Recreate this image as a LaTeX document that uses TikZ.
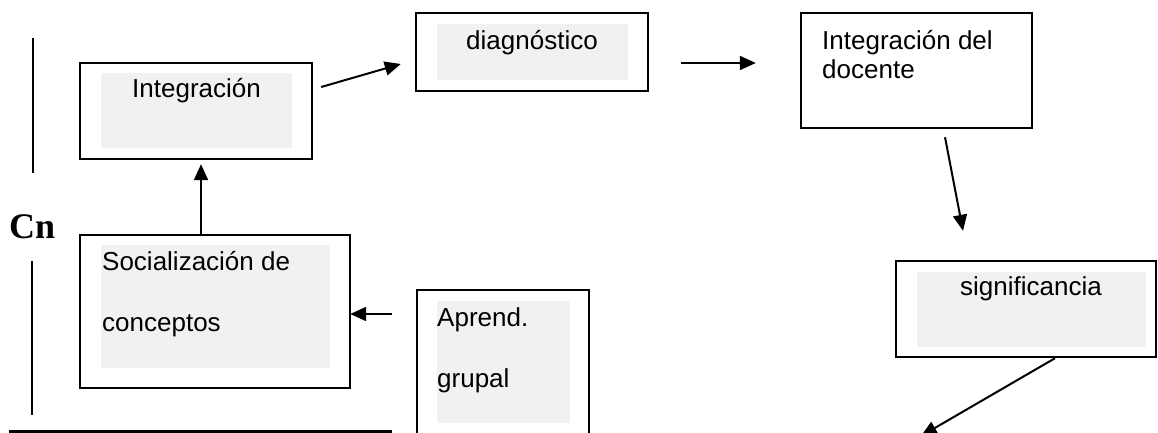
\documentclass[tikz,border=0pt]{standalone}
\usepackage{fontspec}
\setmainfont{Liberation Sans}
\newfontfamily\cnfont{Liberation Serif}
\usetikzlibrary{arrows.meta,calc}
\definecolor{innergray}{HTML}{F1F1F1}
\tikzset{
  boxnode/.style={draw=black, line width=2.4pt, rectangle, inner sep=0pt, fill=none},
  graypanel/.style={fill=innergray, draw=none},
  conn/.style={line width=2pt, -{Triangle[length=16pt,width=14pt]}},
  plainline/.style={line width=2pt},
  lbl/.style={inner sep=0pt, font=\fontsize{26}{30}\selectfont},
}
\begin{document}
\begin{tikzpicture}[x=1pt,y=-1pt]
\useasboundingbox (0,0) rectangle (1158,433);
\clip (0,0) rectangle (1158,433);
\fill[white] (0,0) rectangle (1158,433);

% gray inner panels
\fill[graypanel] (101,73) rectangle (292,148);
\fill[graypanel] (437,24) rectangle (628,80);
\fill[graypanel] (917,272) rectangle (1146,347);
\fill[graypanel] (101,245) rectangle (330,368);
\fill[graypanel] (437,301) rectangle (570,423);

% boxes
\node[boxnode, minimum width=232pt, minimum height=96pt] (integ) at (196,111) {};
\node[boxnode, minimum width=232pt, minimum height=78pt] (diag) at (532,52) {};
\node[boxnode, minimum width=231pt, minimum height=115pt] (doc) at (916.5,70.5) {};
\node[boxnode, minimum width=260pt, minimum height=96pt] (sig) at (1026,309) {};
\node[boxnode, minimum width=270pt, minimum height=153pt] (soc) at (215,311.5) {};
\node[boxnode, minimum width=172pt, minimum height=160pt] (apr) at (503,370) {};

% texts
\node[lbl, anchor=base] (tinteg) at (196.5,98) {Integración};
\node[lbl, anchor=base] (tdiag) at (532,50) {diagnóstico};
\node[lbl, anchor=base west] (tdoc1) at (822,50) {Integración del};
\node[lbl, anchor=base west] (tdoc2) at (822,79) {docente};
\node[lbl, anchor=base] (tsig) at (1031,295) {significancia};
\node[lbl, anchor=base west] (tsoc1) at (102,270) {Socialización de};
\node[lbl, anchor=base west] (tsoc2) at (102,331) {conceptos};
\node[lbl, anchor=base west] (tapr1) at (437,326) {Aprend.};
\node[lbl, anchor=base west] (tapr2) at (437,387) {grupal};
\node[inner sep=0pt, anchor=base west, font=\cnfont\bfseries\fontsize{36}{40}\selectfont] (cn) at (9,238) {Cn};

% side lines
\draw[plainline] (33,38) -- (33,173);
\draw[plainline] (32,261) -- (32,415);
\draw[line width=3pt] (9,431) -- (392,431);

% connectors
\draw[conn] ($(integ.east)+(8,-24)$) -- ($(diag.west)+(-14,12)$);
\draw[conn] ($(diag.east)+(32,11)$) -- ($(doc.west)+(-44,-7.5)$);
\draw[conn] ($(doc.south)+(28.5,8)$) -- ($(sig.north)+(-63,-29)$);
\coordinate (outend) at (921,436);
\draw[conn] ($(sig.south)+(29,0)$) -- (outend);
\draw[conn] ($(apr.west)+(-24,-56)$) -- ($(soc.east)+(-1,2.5)$);
\draw[conn] ($(soc.north)+(-14,0)$) -- ($(integ.south)+(5,4)$);
\end{tikzpicture}
\end{document}
